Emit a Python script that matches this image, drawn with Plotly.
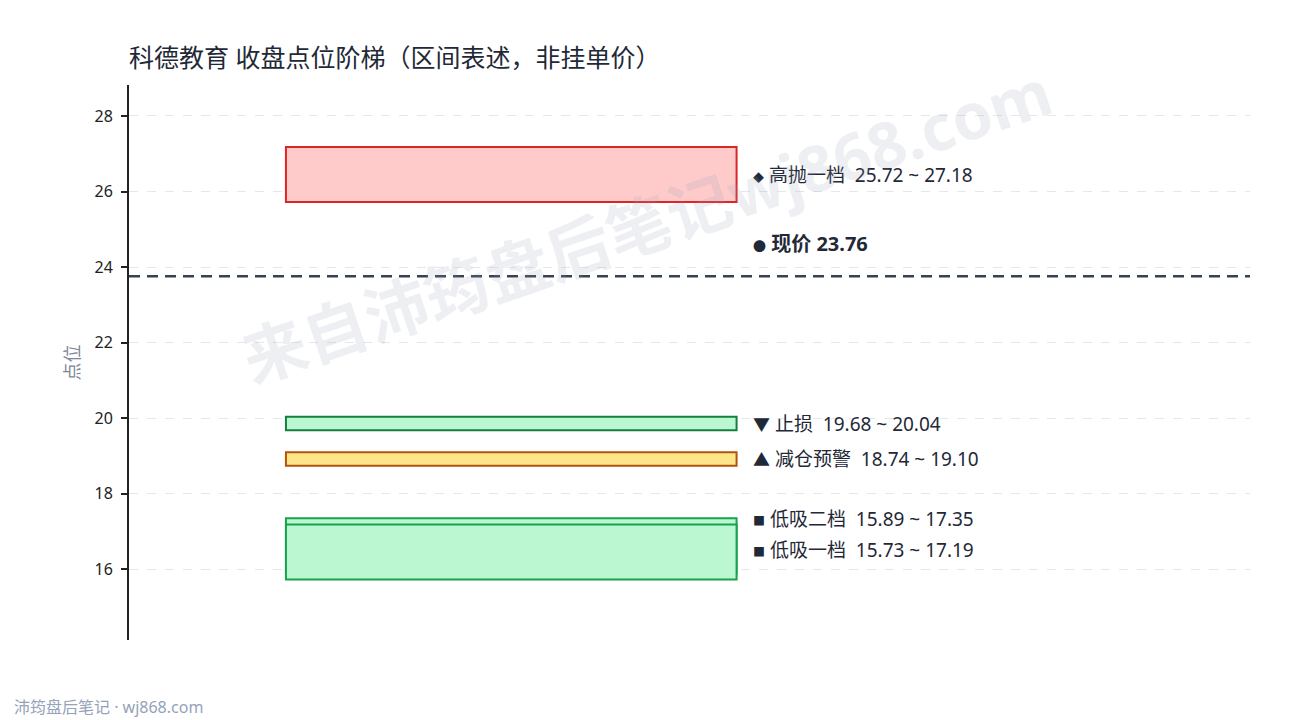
import plotly.graph_objects as go

# 区间数据
zone_names = ["高抛一档", "止损", "减仓预警", "低吸二档", "低吸一档"]
zone_low = [25.72, 19.68, 18.74, 15.89, 15.73]
zone_high = [27.18, 20.04, 19.10, 17.35, 17.19]
zone_icons = ["◆", "▼", "▲", "■", "■"]
price_now = 23.76
y_ticks = [16, 18, 20, 22, 24, 26, 28]

# 样式
fills = ["#fecaca", "#bbf7d0", "#fde68a", "#bbf7d0", "#bbf7d0"]
edges = ["#dc2626", "#15803d", "#b45309", "#16a34a", "#16a34a"]
icon_size = [11, 17, 17, 12, 12]
label_shift = [0, 0, 0, 27, 2]
font = "Noto Sans, Noto Sans CJK SC, sans-serif"
ink = "#1f2937"
gap = "\u00a0\u00a0"

fig = go.Figure()
# 隐形点，撑开坐标
fig.add_trace(go.Scatter(x=[0, 10], y=[14.13, 28.82], mode="markers",
                         marker=dict(opacity=0), hoverinfo="skip", showlegend=False))

for i in range(len(zone_names)):
    fig.add_shape(type="rect", xref="x", yref="y", x0=1.4, x1=5.42,
                  y0=zone_low[i], y1=zone_high[i],
                  fillcolor=fills[i], line=dict(color=edges[i], width=2), layer="above")
    mid = (zone_low[i] + zone_high[i]) / 2
    icon = f"<span style='font-size:{icon_size[i]}px'>{zone_icons[i]}</span>"
    fig.add_annotation(x=5.55, y=mid, xref="x", yref="y", xanchor="left", yanchor="middle",
                       yshift=label_shift[i], showarrow=False,
                       text=f"{icon} {zone_names[i]}{gap}{zone_low[i]:.2f} ~ {zone_high[i]:.2f}",
                       font=dict(size=19, color=ink, family=font))

fig.add_hline(y=price_now, line=dict(color="#374151", width=2.5, dash="11px,7px"))
fig.add_annotation(x=5.55, y=price_now, xref="x", yref="y", xanchor="left", yanchor="middle",
                   yshift=33, showarrow=False,
                   text=f"<b><span style='font-size:13px'>●</span> 现价 {price_now:.2f}</b>",
                   font=dict(size=20, color=ink, family=font))

# 水印
fig.add_annotation(x=0.462, y=0.748, xref="paper", yref="paper", showarrow=False,
                   xanchor="center", yanchor="middle",
                   text="<b>来自沛筠盘后笔记wj868.com</b>", textangle=-18.7,
                   font=dict(size=64, color="rgba(148,163,184,0.17)", family=font))

# 页脚
fig.add_annotation(x=(12 - 129) / 1121, y=(640 - 707) / 555, xref="paper", yref="paper",
                   showarrow=False, text="沛筠盘后笔记 · wj868.com",
                   xanchor="left", yanchor="middle",
                   font=dict(size=16, color="#94a3b8", family=font))

fig.update_layout(
    width=1290, height=720,
    margin=dict(l=129, r=40, t=85, b=80),
    paper_bgcolor="white", plot_bgcolor="white",
    font=dict(family=font, color=ink),
    title=dict(text="科德教育 收盘点位阶梯（区间表述，非挂单价）", x=129 / 1290, xanchor="left",
               y=1 - 58 / 720, yanchor="middle", font=dict(size=25, color=ink, family=font)),
    xaxis=dict(range=[0, 10], visible=False),
    yaxis=dict(range=[14.13, 28.82], tickvals=y_ticks, showline=True, linecolor="#222",
               linewidth=2, ticks="outside", ticklen=6, tickwidth=2, tickcolor="#222",
               ticklabelstandoff=5,
               tickfont=dict(size=16, color="#222"), gridcolor="#e5e7eb", griddash="dash",
               zeroline=False, showgrid=True,
               title=dict(text="点位", standoff=10, font=dict(size=18, color="#7d8799"))),
)

fig.write_html("out.html", config={"displayModeBar": False},
               post_script="document.body.style.margin='0';")
